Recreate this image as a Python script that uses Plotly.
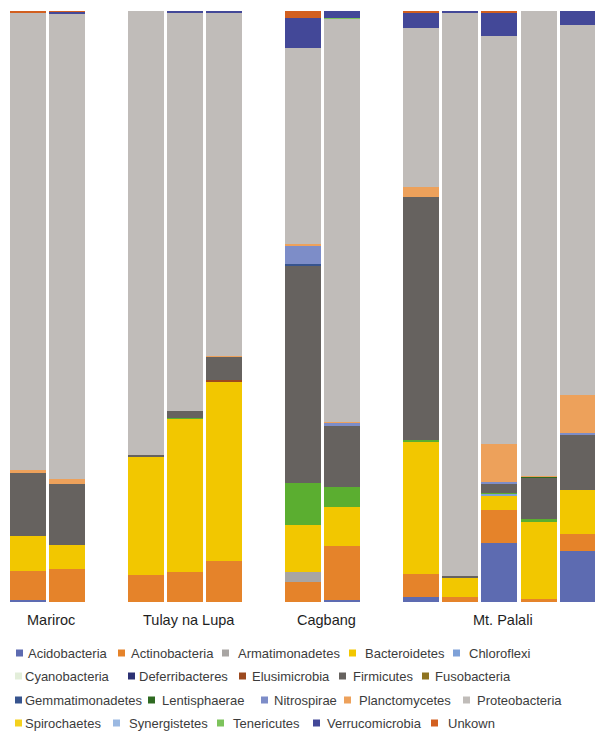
import plotly.graph_objects as go

# Sampling sites and the number of samples (bars) per site
SITES = ["Mariroc", "Tulay na Lupa", "Cagbang", "Mt. Palali"]
SAMPLES_PER_SITE = [2, 3, 2, 5]

# Relative abundance (%) per phylum, one value per sample, in site order:
# Mariroc 1-2, Tulay na Lupa 1-3, Cagbang 1-2, Mt. Palali 1-5
acidobacteria    = [0.3, 0.0, 0.0, 0.0, 0.0, 0.0, 0.4, 0.8, 0.0, 10.0, 0.0, 8.6]
actinobacteria   = [4.9, 5.6, 4.6, 5.1, 7.0, 3.4, 9.1, 3.95, 0.8, 5.5, 0.5, 2.95]
armatimonadetes  = [0.0, 0.0, 0.0, 0.0, 0.0, 1.6, 0.0, 0.0, 0.0, 0.0, 0.0, 0.0]
bacteroidetes    = [6.0, 4.0, 20.1, 25.9, 30.3, 8.1, 6.5, 22.3, 3.2, 2.55, 13.1, 7.45]
chloroflexi      = [0.0, 0.0, 0.0, 0.0, 0.0, 0.0, 0.0, 0.0, 0.0, 0.3, 0.0, 0.0]
cyanobacteria    = [0.0, 0.0, 0.0, 0.1, 0.0, 7.0, 3.5, 0.35, 0.0, 0.15, 0.4, 0.0]
deferribacteres  = [0.0, 0.0, 0.0, 0.0, 0.0, 0.0, 0.0, 0.0, 0.0, 0.0, 0.0, 0.0]
elusimicrobia    = [0.0, 0.0, 0.0, 0.0, 0.25, 0.0, 0.0, 0.0, 0.0, 0.0, 0.0, 0.0]
firmicutes       = [10.6, 10.4, 0.25, 1.3, 3.95, 36.8, 10.3, 41.05, 0.4, 1.5, 6.9, 9.25]
fusobacteria     = [0.0, 0.0, 0.0, 0.0, 0.0, 0.0, 0.0, 0.0, 0.0, 0.0, 0.0, 0.0]
gemmatimonadetes = [0.0, 0.0, 0.0, 0.0, 0.0, 0.35, 0.0, 0.0, 0.0, 0.0, 0.0, 0.0]
lentisphaerae    = [0.0, 0.0, 0.0, 0.0, 0.0, 0.0, 0.0, 0.0, 0.0, 0.0, 0.35, 0.0]
nitrospirae      = [0.0, 0.0, 0.0, 0.0, 0.0, 3.05, 0.55, 0.0, 0.0, 0.3, 0.0, 0.35]
planctomycetes   = [0.5, 0.75, 0.0, 0.0, 0.2, 0.25, 0.15, 1.7, 0.0, 6.5, 0.15, 6.4]
proteobacteria   = [77.4, 78.8, 75.0, 67.4, 58.1, 33.2, 68.2, 26.9, 95.4, 68.9, 78.6, 62.6]
spirochaetes     = [0.0, 0.0, 0.0, 0.0, 0.0, 0.0, 0.0, 0.0, 0.0, 0.0, 0.0, 0.0]
synergistetes    = [0.0, 0.0, 0.0, 0.0, 0.0, 0.0, 0.0, 0.0, 0.0, 0.0, 0.0, 0.0]
tenericutes      = [0.0, 0.0, 0.0, 0.0, 0.0, 0.0, 0.15, 0.0, 0.0, 0.0, 0.0, 0.0]
verrucomicrobia  = [0.0, 0.35, 0.0, 0.2, 0.2, 5.1, 1.2, 2.55, 0.2, 4.1, 0.0, 2.35]
unkown           = [0.3, 0.15, 0.0, 0.0, 0.0, 1.1, 0.0, 0.4, 0.0, 0.2, 0.0, 0.0]

# Stack order, bottom to top
PHYLA = [
    ("Acidobacteria", acidobacteria, "#5D6BB1"),
    ("Actinobacteria", actinobacteria, "#E5832A"),
    ("Armatimonadetes", armatimonadetes, "#A8A5A3"),
    ("Bacteroidetes", bacteroidetes, "#F2C700"),
    ("Chloroflexi", chloroflexi, "#7EA1D8"),
    ("Cyanobacteria", cyanobacteria, "#5BAE30"),
    ("Deferribacteres", deferribacteres, "#2C3173"),
    ("Elusimicrobia", elusimicrobia, "#9C4A1F"),
    ("Firmicutes", firmicutes, "#66625F"),
    ("Fusobacteria", fusobacteria, "#8F7421"),
    ("Gemmatimonadetes", gemmatimonadetes, "#37548E"),
    ("Lentisphaerae", lentisphaerae, "#2F6A22"),
    ("Nitrospirae", nitrospirae, "#7D8DC8"),
    ("Planctomycetes", planctomycetes, "#EDA15B"),
    ("Proteobacteria", proteobacteria, "#C0BCB9"),
    ("Spirochaetes", spirochaetes, "#F4D11E"),
    ("Synergistetes", synergistetes, "#9BB9E2"),
    ("Tenericutes", tenericutes, "#7DC35C"),
    ("Verrucomicrobia", verrucomicrobia, "#434898"),
    ("Unkown", unkown, "#D25F1F"),
]
COLOR = {name: c for name, _, c in PHYLA}
# Legend swatch colours (Cyanobacteria key is drawn in its pale tint)
SWATCH = dict(COLOR, Cyanobacteria="#E3EEDA")

# Bar slots: one empty slot between sites
positions, site_centers = [], []
slot = 0
for n in SAMPLES_PER_SITE:
    grp = list(range(slot, slot + n))
    positions += grp
    site_centers.append((grp[0] + grp[-1]) / 2)
    slot += n + 1

fig = go.Figure()
for name, vals, color in PHYLA:
    fig.add_trace(go.Bar(
        x=positions, y=vals, name=name, width=0.916,
        marker=dict(color=color, line=dict(width=0)),
        showlegend=False,
    ))

# Figure geometry (pixels)
W, H = 595, 731
ML, MR, MT, MB = 8, 0, 11, 129
PW, PH = W - ML - MR, H - MT - MB
SLOT_PX = 39.3


def px_to_paper(px, py):
    return (px - ML) / PW, (H - MB - py) / PH


annotations = []
shapes = []

# Site labels under each group of bars
for site, cx in zip(SITES, site_centers):
    _, yp = px_to_paper(0, 619.5)
    annotations.append(dict(
        x=cx, xref="x", y=yp, yref="paper", text=site, showarrow=False,
        xanchor="center", yanchor="middle", xshift=4,
        font=dict(family="Liberation Sans, Arial, sans-serif", size=14.5, color="#1E1E1E"),
    ))

# Key: four rows of five entries (swatch left edge, text left edge in px)
LEGEND_ROWS = [
    ["Acidobacteria", "Actinobacteria", "Armatimonadetes", "Bacteroidetes", "Chloroflexi"],
    ["Cyanobacteria", "Deferribacteres", "Elusimicrobia", "Firmicutes", "Fusobacteria"],
    ["Gemmatimonadetes", "Lentisphaerae", "Nitrospirae", "Planctomycetes", "Proteobacteria"],
    ["Spirochaetes", "Synergistetes", "Tenericutes", "Verrucomicrobia", "Unkown"],
]
ROW_Y = [653, 676, 700, 723]
SWATCH_X = [
    [16, 118, 222, 349, 453],
    [15, 128, 239, 339, 422],
    [15, 148, 261, 344, 463],
    [15, 113, 217, 313, 431],
]
TEXT_X = [
    [26, 129, 236, 363, 467],
    [23, 137, 250, 351, 433],
    [23, 160, 272, 357, 475],
    [23, 127, 231, 325, 446],
]
SQ = 7
for row, ry, sxs, txs in zip(LEGEND_ROWS, ROW_Y, SWATCH_X, TEXT_X):
    for name, sx, tx in zip(row, sxs, txs):
        x0, y0 = px_to_paper(sx, ry + SQ / 2)
        x1, y1 = px_to_paper(sx + SQ, ry - SQ / 2)
        shapes.append(dict(
            type="rect", xref="paper", yref="paper", x0=x0, y0=y0, x1=x1, y1=y1,
            fillcolor=SWATCH[name], line=dict(width=0), layer="above",
        ))
        xp, yp = px_to_paper(tx, ry)
        annotations.append(dict(
            x=xp, xref="paper", y=yp, yref="paper", text=name, showarrow=False,
            xanchor="left", yanchor="middle",
            font=dict(family="Liberation Sans, Arial, sans-serif", size=13, color="#3C3C3C"),
        ))

fig.update_layout(
    width=W, height=H,
    margin=dict(l=ML, r=MR, t=MT, b=MB, pad=0),
    barmode="stack",
    paper_bgcolor="white", plot_bgcolor="white",
    xaxis=dict(range=[-0.5, -0.5 + PW / SLOT_PX], visible=False, fixedrange=True),
    yaxis=dict(range=[0, 100], visible=False, fixedrange=True),
    annotations=annotations,
    shapes=shapes,
    showlegend=False,
)

fig.write_html("out.html", config={"displayModeBar": False})
